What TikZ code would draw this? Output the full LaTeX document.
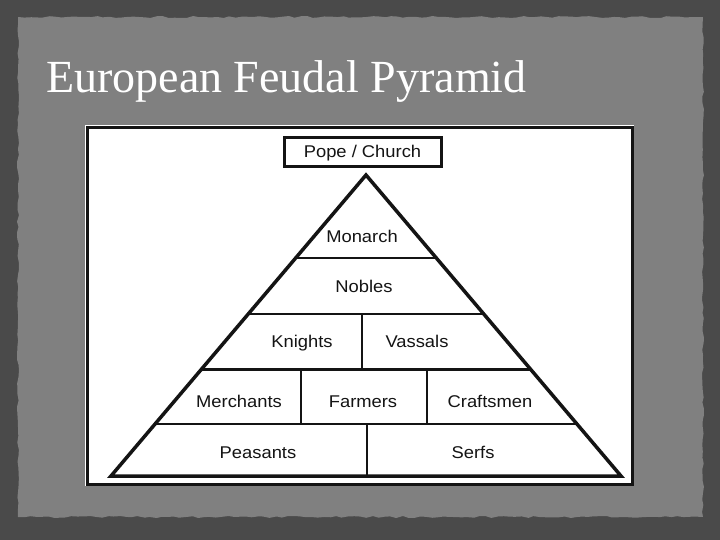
\documentclass[tikz,border=0pt]{standalone}
\usepackage{fontspec}
\setmainfont{Liberation Serif}
\setsansfont[FakeStretch=1.08]{Liberation Sans}
\usetikzlibrary{calc,decorations.pathmorphing}
\definecolor{Slate}{HTML}{4A4A4A}
\definecolor{Paper}{HTML}{808080}
\definecolor{Ink}{HTML}{141414}

\tikzset{
  rank/.style={font=\sffamily\fontsize{17}{20}\selectfont,text=Ink,inner sep=0pt,anchor=base},
  tier/.style={line width=2.8pt,Ink},
}

\begin{document}
\begin{tikzpicture}[x=1pt,y=-1pt]
    \pgfmathsetseed{7}
    \fill[Slate] (0,0) rectangle (720,540);
    \fill[Paper,decorate,decoration={random steps,segment length=6pt,amplitude=1pt}] (18,17) rectangle (703,517);
    \node[anchor=base west,text=white,font=\fontsize{46}{50}\selectfont,inner sep=0pt] (title) at (46,93) {European Feudal Pyramid};
    % white sheet
    \fill[white] (85,125) rectangle (634,486);
    \draw[line width=3pt,Ink] (87.5,127.5) rectangle (632.5,484.5);
    \node[draw=Ink,line width=3pt,minimum width=157pt,minimum height=29pt,text height=12pt,text depth=0pt,rank,anchor=center] (pope) at (362.5,152) {Pope / Church};
    % pyramid
    \coordinate (apex) at (366,175);
    \coordinate (bl) at (111,476);
    \coordinate (br) at (621,476);
    \draw[line width=3.5pt,Ink] (apex) -- (bl) -- (br) -- cycle;
    \foreach \t in {0.276,0.462,0.645,0.827}
      \draw[tier] ($(apex)!\t!(bl)$) -- ($(apex)!\t!(br)$);
    \draw[tier] (362,314) -- (362,369);
    \draw[tier] (301,369) -- (301,424);
    \draw[tier] (427,369) -- (427,424);
    \draw[tier] (367,424) -- (367,476);
    \node[rank] (monarch) at (362,243) {Monarch};
    \node[rank] (nobles) at (364,292) {Nobles};
    \node[rank] (knights) at (302,347) {Knights};
    \node[rank] (vassals) at (417,347) {Vassals};
    \node[rank] (merchants) at (239,407) {Merchants};
    \node[rank] (farmers) at (363,407) {Farmers};
    \node[rank] (craftsmen) at (490,407) {Craftsmen};
    \node[rank] (peasants) at (258,458) {Peasants};
    \node[rank] (serfs) at (473,458) {Serfs};
  \end{tikzpicture}
\end{document}
